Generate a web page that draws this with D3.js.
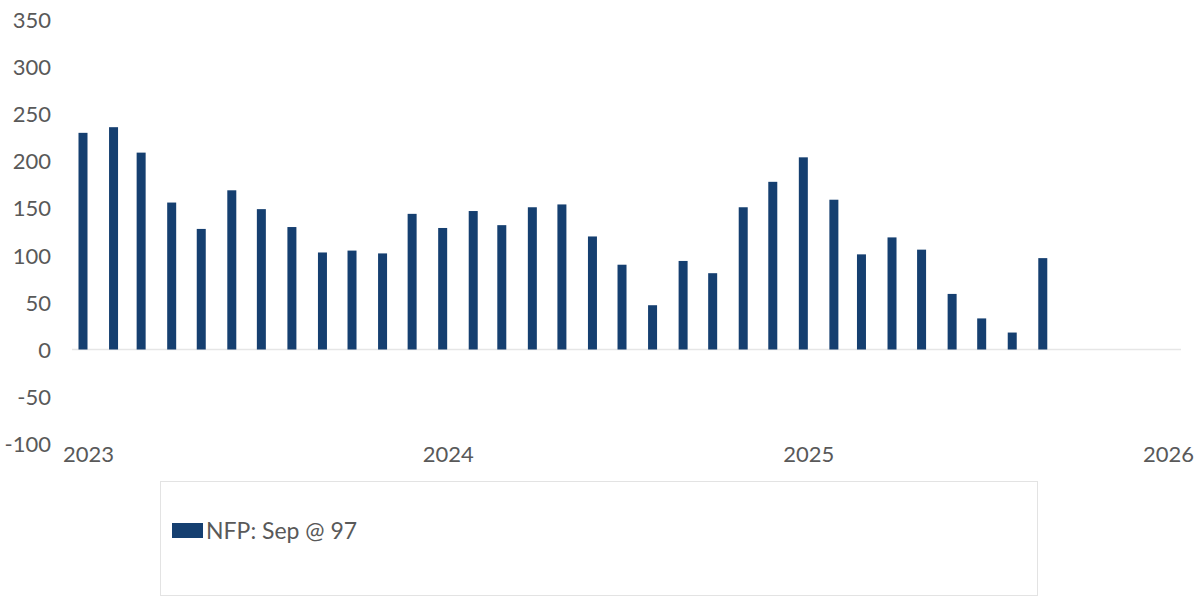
<!DOCTYPE html>
<html><head><meta charset="utf-8">
<script src="https://cdn.jsdelivr.net/npm/d3@7"></script>
<style>
html,body{margin:0;padding:0;background:#fff;}
text{font-family:Lato,"Open Sans",sans-serif;}
</style></head>
<body>
<svg id="chart" width="1200" height="600"></svg>
<script>
const months = ["2023-01","2023-02","2023-03","2023-04","2023-05","2023-06","2023-07","2023-08","2023-09","2023-10","2023-11","2023-12",
"2024-01","2024-02","2024-03","2024-04","2024-05","2024-06","2024-07","2024-08","2024-09","2024-10","2024-11","2024-12",
"2025-01","2025-02","2025-03","2025-04","2025-05","2025-06","2025-07","2025-08","2025-09"];
const nfp = [230,236,209,156,128,169,149,130,103,105,102,144,
129,147,132,151,154,120,90,47,94,81,151,178,
204,159,101,119,106,59,33,18,97];
const yTicks = [-100,-50,0,50,100,150,200,250,300,350];
const xTickYears = ["2023","2024","2025","2026"];
const seriesName = "NFP: Sep @ 97";

const svg = d3.select("#chart");
const parse = d3.utcParse("%Y-%m");
const data = months.map((m,i)=>({date:parse(m), value:nfp[i]}));

const x = d3.scaleUtc().domain([parse("2023-01"), parse("2026-01")]).range([83, 1163]);
const y = d3.scaleLinear().domain([-100, 350]).range([443.7, 19.8]);

// y labels
const yAxis = d3.axisLeft(y).tickValues(yTicks).tickSize(0).tickPadding(0).tickFormat(d=>String(d));
const gy = svg.append("g").attr("transform","translate(51,0)").call(yAxis);
gy.select(".domain").remove();
gy.selectAll("text").attr("fill","#595959").style("font-size","22px").style("font-family","Lato").attr("dy","0.35em");

// zero line
svg.append("line").attr("x1",72).attr("x2",1181).attr("y1",y(0)).attr("y2",y(0))
  .attr("stroke","#e6e6e6").attr("stroke-width",1.5);

// bars
const bw = 9;
svg.append("g").selectAll("rect").data(data).join("rect")
  .attr("x", d=>x(d.date)-bw/2)
  .attr("width", bw)
  .attr("y", d=>y(Math.max(0,d.value)))
  .attr("height", d=>Math.abs(y(d.value)-y(0)))
  .attr("fill","#153f70");

// x labels
const xAxis = d3.axisBottom(x).tickValues(xTickYears.map(s=>d3.utcParse("%Y")(s))).tickSize(0).tickPadding(0).tickFormat(d3.utcFormat("%Y"));
const gx = svg.append("g").attr("transform","translate(5,454)").call(xAxis);
gx.select(".domain").remove();
gx.selectAll("text").attr("fill","#595959").style("font-size","22px").style("font-family","Lato").attr("dy","0.35em").attr("y",0);

// legend
const lg = svg.append("g");
lg.append("rect").attr("x",160.5).attr("y",481.5).attr("width",877).attr("height",114)
  .attr("fill","#fff").attr("stroke","#e3e3e3").attr("stroke-width",1);
lg.append("rect").attr("x",172).attr("y",523).attr("width",31).attr("height",15).attr("fill","#153f70");
lg.append("text").attr("x",206).attr("y",531).attr("dy","0.35em").attr("fill","#595959")
  .style("font-size","23px").text(seriesName);
</script>
</body></html>
